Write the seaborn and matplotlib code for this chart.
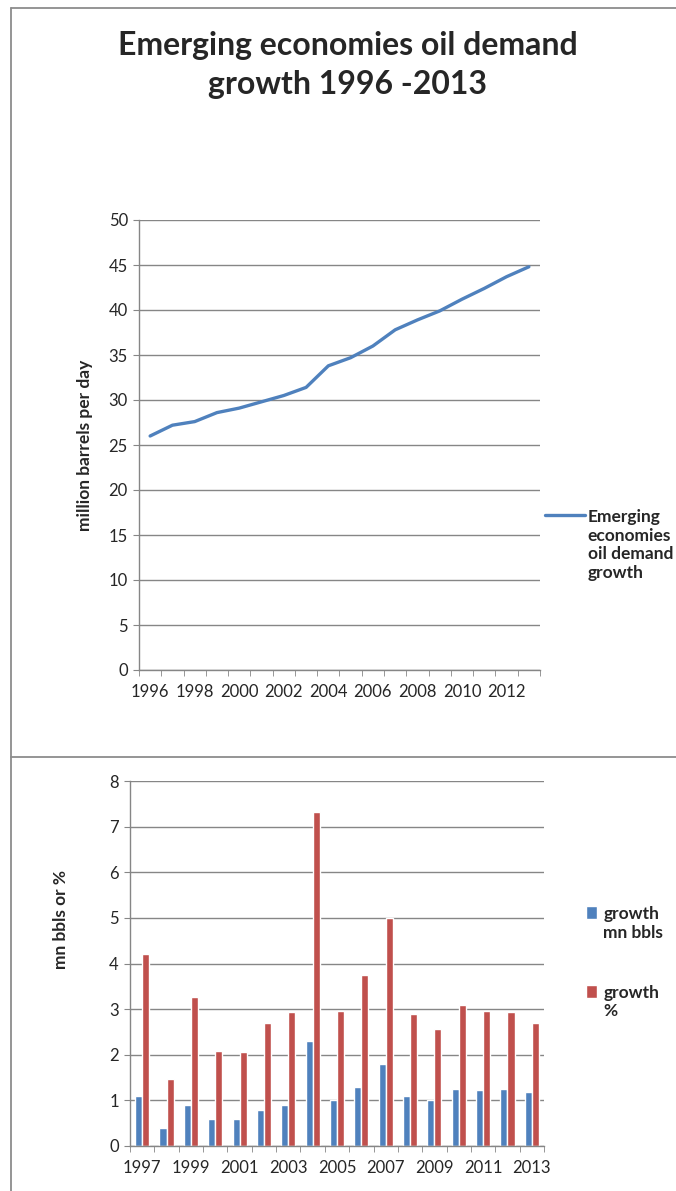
import matplotlib
matplotlib.use("Agg")
from matplotlib import pyplot as plt
from matplotlib.lines import Line2D
from matplotlib.ticker import MultipleLocator, FixedLocator
import seaborn as sns
import pandas as pd
import numpy as np

# data
years = list(range(1996, 2014))
demand = [26.0, 27.2, 27.6, 28.6, 29.1, 29.8, 30.5, 31.4, 33.8, 34.7,
          36.0, 37.8, 38.9, 39.9, 41.2, 42.4, 43.7, 44.8]

growth_years = list(range(1997, 2014))
growth_mn = [1.1, 0.4, 0.9, 0.6, 0.6, 0.8, 0.9, 2.3, 1.0, 1.3,
             1.8, 1.1, 1.0, 1.24, 1.22, 1.25, 1.18]
growth_pct = [4.21, 1.46, 3.26, 2.09, 2.05, 2.69, 2.94, 7.32, 2.96, 3.74,
              5.0, 2.90, 2.57, 3.10, 2.96, 2.94, 2.70]
series_names = ['growth\nmn bbls', 'growth\n%']

title = 'Emerging economies oil demand\ngrowth 1996 -2013'
line_label = 'Emerging\neconomies\noil demand\ngrowth'

# style
sns.set_style('white')
plt.rcParams['font.family'] = ['Lato', 'DejaVu Sans']
blue = '#4F81BD'
red = '#C0504D'
grey = '#868686'
tick_size = 12
leg_size = 12.5

W, H = 676, 1191
fig = plt.figure(figsize=(W / 100, H / 100), dpi=100)

def frac(x0, y0, x1, y1):
    return [x0 / W, 1 - y1 / H, (x1 - x0) / W, (y1 - y0) / H]

def style_axes(ax):
    for s in ['top', 'right']:
        ax.spines[s].set_visible(False)
    for s in ['left', 'bottom']:
        ax.spines[s].set_color(grey)
        ax.spines[s].set_linewidth(1.0)
    ax.yaxis.grid(True, color=grey, linewidth=1.0)
    ax.set_axisbelow(True)
    ax.tick_params(axis='y', which='major', direction='out', length=4,
                   color=grey, labelsize=tick_size, pad=4, left=True)
    ax.tick_params(axis='x', which='major', length=0, labelsize=tick_size, pad=10)
    ax.tick_params(axis='x', which='minor', direction='out', length=4,
                   color=grey, bottom=True)

def top_align(leg):
    # put the legend key beside the first line of a multi-line label
    for col in leg._legend_handle_box.get_children():
        for row in col.get_children():
            row.align = 'top'

# ---- top panel: line chart
ax1 = fig.add_axes(frac(139, 220, 540, 670))
sns.lineplot(x=years, y=demand, ax=ax1, color=blue, linewidth=2.4,
             label=line_label)
ax1.set_xlim(years[0] - 0.5, years[-1] + 0.5)
ax1.set_ylim(0, 50)
ax1.yaxis.set_major_locator(MultipleLocator(5))
ax1.set_xticks(years[::2])
ax1.set_xticklabels([str(y) for y in years[::2]])
ax1.xaxis.set_minor_locator(FixedLocator(np.arange(years[0] - 0.5, years[-1] + 1, 1)))
style_axes(ax1)
ax1.set_xlabel('')
ax1.set_ylabel('million barrels per day', fontsize=12.5, fontweight='bold')
ax1.yaxis.set_label_coords(-0.115, 0.5)
leg1 = ax1.legend(loc='upper left', bbox_to_anchor=(545 / W, 1 - 509 / H),
                  bbox_transform=fig.transFigure, frameon=False,
                  prop={'weight': 'bold', 'size': leg_size}, handlelength=2.3,
                  handletextpad=0.15, borderpad=0, borderaxespad=0)
top_align(leg1)

# ---- bottom panel: grouped bars
df = pd.DataFrame({
    'year': growth_years * 2,
    'series': [series_names[0]] * len(growth_years) + [series_names[1]] * len(growth_years),
    'value': growth_mn + growth_pct,
})
ax2 = fig.add_axes(frac(130, 781, 544, 1146))
sns.barplot(data=df, x='year', y='value', hue='series', palette=[blue, red],
            width=0.58, gap=0, ax=ax2, saturation=1)
ax2.set_ylim(0, 8)
ax2.yaxis.set_major_locator(MultipleLocator(1))
n = len(growth_years)
ax2.set_xlim(-0.5, n - 0.5)
ax2.set_xticks(range(0, n, 2))
ax2.set_xticklabels([str(y) for y in growth_years[::2]])
ax2.xaxis.set_minor_locator(FixedLocator(np.arange(-0.5, n, 1)))
style_axes(ax2)
ax2.set_xlabel('')
ax2.set_ylabel('mn bbls or %', fontsize=12.5, fontweight='bold')
ax2.yaxis.set_label_coords(-0.148, 0.62)
handles, labels = ax2.get_legend_handles_labels()
leg2 = ax2.legend(handles, labels, loc='upper left',
                  bbox_to_anchor=(586 / W, 1 - 906 / H),
                  bbox_transform=fig.transFigure, frameon=False,
                  prop={'weight': 'bold', 'size': leg_size}, handlelength=0.65,
                  handleheight=0.75, handletextpad=0.35, labelspacing=2.55,
                  borderpad=0, borderaxespad=0)
top_align(leg2)

# title
fig.text(348 / W, 1 - 65 / H, title, ha='center', va='center',
         fontsize=23, fontweight='bold', linespacing=1.4)

# chart area borders
bc = '#8c8c8c'
fig.add_artist(Line2D([11 / W, 11 / W], [0, 1 - 8 / H], transform=fig.transFigure, color=bc, lw=1.3))
fig.add_artist(Line2D([11 / W, 1], [1 - 8 / H, 1 - 8 / H], transform=fig.transFigure, color=bc, lw=1.3))
fig.add_artist(Line2D([11 / W, 1], [1 - 757 / H, 1 - 757 / H], transform=fig.transFigure, color=bc, lw=1.3))

fig.savefig('out.png', dpi=100)
